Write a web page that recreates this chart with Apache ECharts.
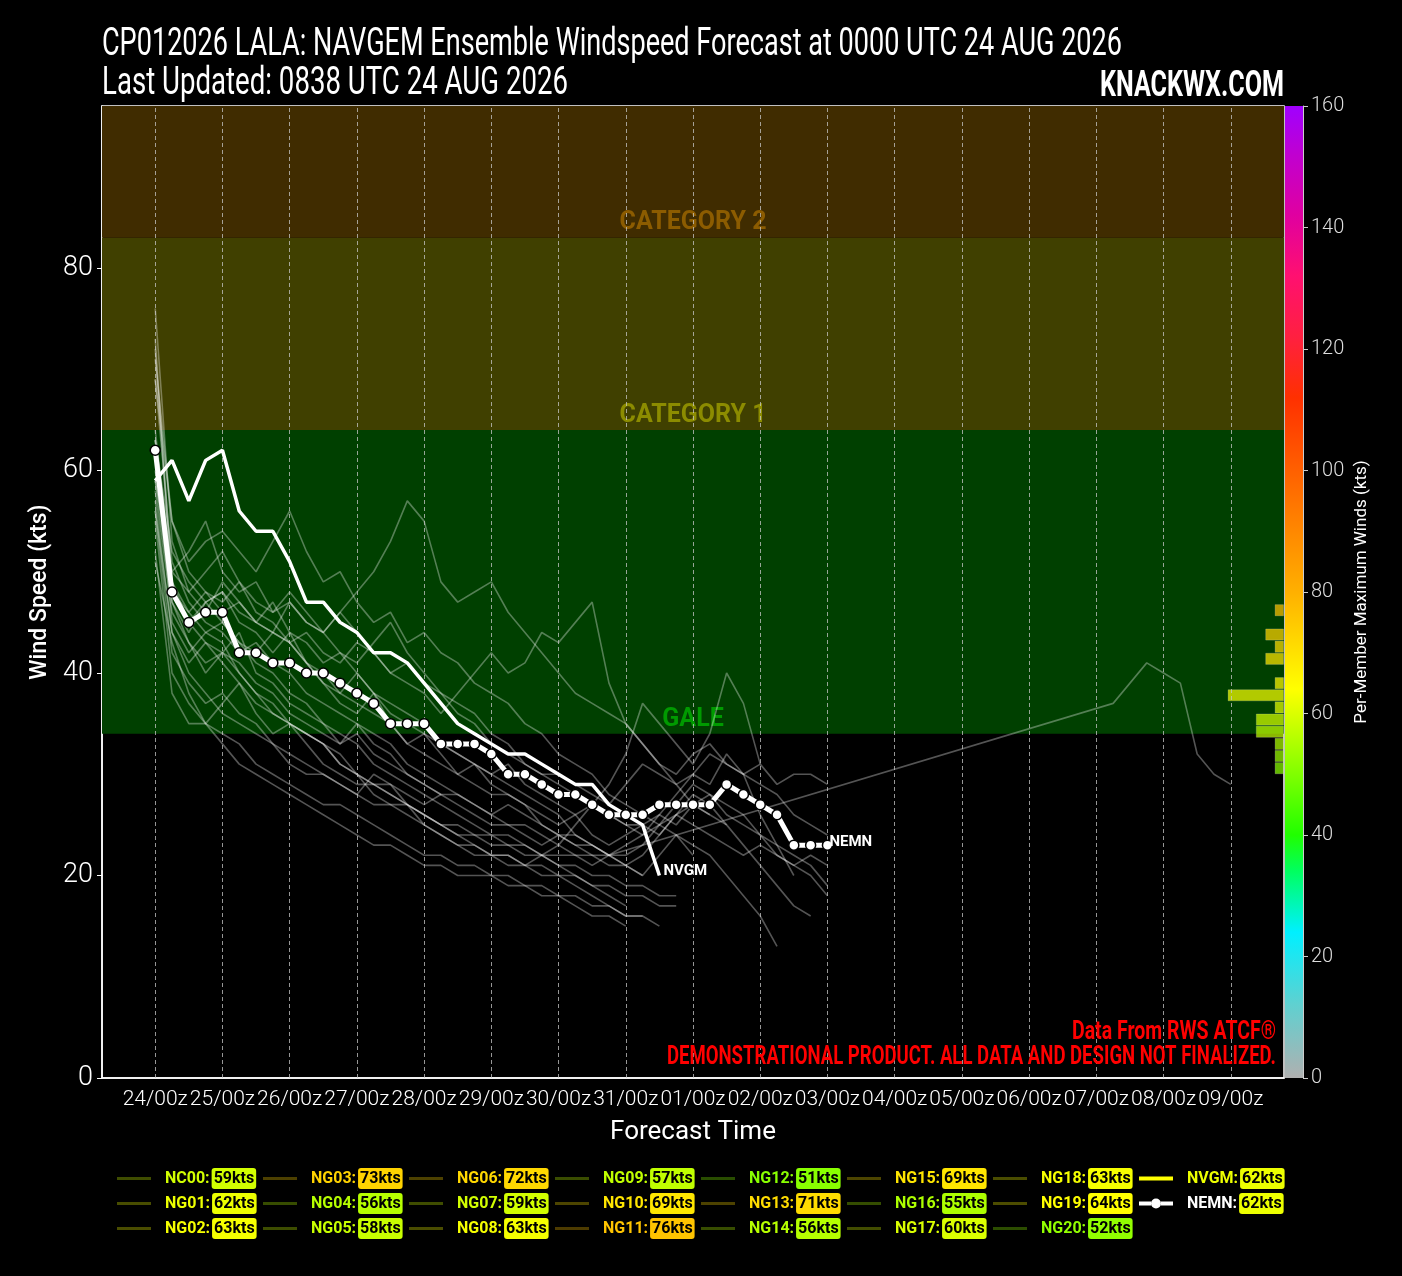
<!DOCTYPE html>
<html>
<head>
<meta charset="utf-8">
<title>CP012026 LALA NAVGEM Ensemble Windspeed Forecast</title>
<script src="https://cdn.jsdelivr.net/npm/echarts@6/dist/echarts.min.js"></script>
<style>
    html, body { margin: 0; padding: 0; background: #000; }
    .chart1 { width: 1402px; height: 1276px; }
</style>
</head>
<body>
<div class="chart1"></div>
<script>
// x axis: forecast hour from 0000 UTC 24 AUG, one tick per day
var dayLabels = ['24/00z', '25/00z', '26/00z', '27/00z', '28/00z', '29/00z', '30/00z', '31/00z',
    '01/00z', '02/00z', '03/00z', '04/00z', '05/00z', '06/00z', '07/00z', '08/00z', '09/00z'];
var STEP = 6; // hours between points

// deterministic + ensemble mean
var NVGM = [59, 61, 57, 61, 62, 56, 54, 54, 51, 47, 47, 45, 44, 42, 42, 41, 39, 37, 35, 34,
    33, 32, 32, 31, 30, 29, 29, 27, 26, 25, 20];
var NEMN = [62, 48, 45, 46, 46, 42, 42, 41, 41, 40, 40, 39, 38, 37, 35, 35, 35, 33, 33, 33,
    32, 30, 30, 29, 28, 28, 27, 26, 26, 26, 27, 27, 27, 27, 29, 28, 27, 26, 23, 23, 23];

// ensemble members (6-hourly from hour 0)
var NC00 = [59, 47, 44, 47, 48, 45, 44, 42, 44, 41, 39, 37, 36, 38, 35, 33, 32, 31, 30, 31,
    29, 28, 27, 26, 25, 26, 24, 23, 24, 25, 26, 25, 27, 28, 26, 25, 24, 23, 22, 21, 19];
var NG01 = [62, 45, 42, 44, 43, 40, 38, 36, 35, 34, 33, 31, 30, 28, 27, 27, 25, 24, 23, 22,
    22, 21, 21, 20, 20, 19, 18, 17, 16, 16, 15];
var NG02 = [63, 50, 48, 50, 52, 49, 47, 46, 48, 46, 44, 42, 41, 43, 45, 42, 40, 38, 37, 36,
    34, 33, 31, 30, 30, 29, 28, 27, 29, 31, 30, 29, 30, 32, 31, 30, 31, 29, 30, 30, 29];
var NG03 = [73, 49, 46, 44, 45, 43, 41, 40, 38, 37, 35, 34, 33, 31, 30, 29, 28, 27, 26, 25,
    24, 24, 23, 22, 21, 20, 19, 18, 17];
var NG04 = [56, 44, 41, 43, 42, 40, 38, 37, 35, 34, 33, 32, 30, 29, 28, 27, 26, 25, 25, 24,
    24, 23, 23, 22, 22, 22, 21, 22];
var NG04_LATE = [37, 39, 41, 40, 39, 32, 30, 29]; // NG04 picks up again at hour 342
var NG04_LATE_START = 342;
var NG05 = [58, 46, 43, 40, 42, 41, 39, 38, 36, 35, 34, 33, 35, 33, 32, 30, 29, 28, 28, 27,
    26, 27, 26, 25, 24, 24, 23, 22, 22, 23, 25, 27, 29, 28, 27, 26, 24, 22, 21, 20, 18];
var NG06 = [72, 48, 45, 43, 41, 39, 37, 36, 35, 34, 33, 31, 30, 29, 29, 27, 26, 25, 24, 23,
    22, 22, 21, 21, 20, 20, 19, 19, 18, 18, 17, 17];
var NG07 = [59, 50, 52, 55, 50, 48, 49, 46, 47, 45, 44, 46, 44, 42, 40, 41, 39, 38, 36, 35,
    33, 32, 31, 30, 29, 28, 27, 26, 25, 25, 24, 26, 25, 24, 23, 22, 23, 22, 21, 22, 21];
var NG08 = [63, 52, 49, 47, 48, 46, 45, 44, 47, 45, 44, 46, 48, 50, 53, 57, 55, 49, 47, 48,
    49, 46, 44, 42, 40, 38, 37, 36, 35, 33, 31, 30, 32, 33, 31, 30, 29, 28, 26, 25, 24];
var NG09 = [57, 44, 40, 38, 36, 35, 34, 33, 31, 30, 30, 29, 28, 30, 29, 28, 27, 28];
var NG10 = [69, 51, 47, 45, 44, 42, 43, 41, 40, 38, 37, 36, 35, 34, 33, 31, 30, 29, 28, 27,
    26, 25, 25, 24, 23, 22, 22, 21, 21, 20, 22, 24, 23, 22, 20, 18, 16, 13];
var NG11 = [76, 53, 48, 46, 49, 47, 45, 44, 43, 41, 40, 38, 37, 36, 35, 33, 34, 32, 30, 29,
    28, 28, 27, 25, 24, 23, 23, 22, 21, 22, 24, 26, 28, 27, 25, 23, 21, 19, 17, 16];
var NG12 = [51, 43, 38, 35, 34, 33, 31, 30, 29, 28, 27, 27, 26, 25, 24, 23, 22, 22, 21, 21,
    20, 20, 19, 19, 18, 18, 17, 17, 16, 16];
var NG13 = [71, 55, 50, 48, 46, 47, 45, 47, 44, 43, 41, 42, 40, 38, 37, 36, 35, 33, 32, 31,
    30, 31, 29, 28, 27, 26, 27, 26, 25, 24, 26, 28, 30, 29, 32, 30, 26, 23, 20];
var NG14 = [56, 42, 39, 37, 38, 36, 35, 33, 32, 31, 30, 29, 28, 27, 27, 26, 25, 24, 23, 23,
    22, 22, 21, 22, 23, 25, 27, 29, 32, 37, 35, 33, 31, 34, 40, 37, 31];
var NG15 = [69, 55, 51, 53, 54, 52, 50, 53, 56, 52, 49, 50, 47, 45, 46, 43, 44, 42, 41, 39,
    38, 37, 35, 34, 32, 31, 30, 28, 27, 26, 25, 24, 22];
var NG16 = [55, 40, 37, 35, 33, 31, 30, 29, 28, 27, 26, 25, 24, 23, 23, 22, 21, 21, 20, 20,
    20, 19, 19, 18, 18, 17, 16, 16, 15];
var NG17 = [60, 48, 46, 48, 47, 49, 46, 45, 43, 44, 42, 41, 43, 42, 40, 39, 38, 36, 38, 40,
    42, 40, 41, 44, 43, 45, 47, 39, 35, 33, 31, 29, 27, 26];
var NG18 = [63, 47, 43, 41, 42, 44, 40, 39, 37, 36, 35, 33, 34, 32, 31, 30, 29, 28, 27, 26,
    25, 25, 24, 23, 24, 23, 22, 22, 23, 24, 25, 26, 27, 26, 25];
var NG19 = [64, 49, 45, 47, 45, 43, 42, 44, 43, 41, 39, 38, 40, 38, 36, 35, 34, 33, 32, 31,
    30, 29, 28, 27, 26, 24, 23, 22, 21, 20];
var NG20 = [52, 38, 35, 35, 37, 39, 36, 34, 35, 33, 31, 30, 29, 29, 28, 27, 26, 25, 24, 24,
    23, 23, 22, 22, 21, 21, 20, 20, 19, 19, 18, 18];

var memberNames = ['NC00', 'NG01', 'NG02', 'NG03', 'NG04', 'NG05', 'NG06', 'NG07', 'NG08', 'NG09', 'NG10',
    'NG11', 'NG12', 'NG13', 'NG14', 'NG15', 'NG16', 'NG17', 'NG18', 'NG19', 'NG20'];
var memberValues = [NC00, NG01, NG02, NG03, NG04, NG05, NG06, NG07, NG08, NG09, NG10,
    NG11, NG12, NG13, NG14, NG15, NG16, NG17, NG18, NG19, NG20];

// intensity bands (kts)
var bandNames = ['GALE', 'CATEGORY 1', 'CATEGORY 2'];
var bandFrom = [34, 64, 83];
var bandTo = [64, 83, 96];

var FONT = "Roboto, 'Noto Sans', sans-serif";

// colour scale used for the per-member maximum winds
var cbStops = [[0, '#b0b0b0'], [12, '#60d0d0'], [24, '#00f0ff'], [34, '#00ff60'], [40, '#20ff00'],
    [50, '#80ff00'], [64, '#ffff00'], [80, '#ffb000'], [100, '#ff6000'], [112, '#ff3000'],
    [122, '#ff2040'], [132, '#ff1070'], [142, '#e000a0'], [152, '#c000d0'], [160, '#a000ff']];

function hexRgb(h) {
    return [parseInt(h.substr(1, 2), 16), parseInt(h.substr(3, 2), 16), parseInt(h.substr(5, 2), 16)];
}
function cmap(v, alpha) {
    var a = cbStops[0], b = cbStops[cbStops.length - 1];
    for (var i = 0; i < cbStops.length - 1; i++) {
        if (v >= cbStops[i][0] && v <= cbStops[i + 1][0]) { a = cbStops[i]; b = cbStops[i + 1]; break; }
    }
    var t = b[0] === a[0] ? 0 : (v - a[0]) / (b[0] - a[0]);
    var ca = hexRgb(a[1]), cb = hexRgb(b[1]);
    var c = ca.map(function (x, k) { return Math.round(x + (cb[k] - x) * t); });
    return 'rgba(' + c[0] + ',' + c[1] + ',' + c[2] + ',' + (alpha == null ? 1 : alpha) + ')';
}

function toPairs(values, start) {
    return values.map(function (v, i) { return [start + STEP * i, v]; });
}

// the original uses a condensed face; squeeze wide text to the same width
var measureCtx = document.createElement('canvas').getContext('2d');
function squeezedText(text, font, x, y, width, align, color) {
    measureCtx.font = font;
    var w = measureCtx.measureText(text).width;
    return {
        type: 'text', x: x, y: y, scaleX: width / w, silent: true, z: 10,
        style: { text: text, font: font, fill: color, textAlign: align, textVerticalAlign: 'middle' }
    };
}

var myChart1;
function initChart1() {
    var chartDom = document.querySelector('.chart1');
    myChart1 = echarts.init(chartDom, null, { renderer: 'canvas' });
    var option;

    var dayHours = dayLabels.map(function (d, i) { return i * 24; });

    // maxima per member (plus the two summary lines)
    var allNames = memberNames.concat(['NVGM', 'NEMN']);
    var allMax = memberValues.map(function (v, i) {
        var m = Math.max.apply(null, v);
        if (memberNames[i] === 'NG04') m = Math.max(m, Math.max.apply(null, NG04_LATE));
        return m;
    }).concat([Math.max.apply(null, NVGM), Math.max.apply(null, NEMN)]);

    // histogram of maxima, 2-kt bins on the 0-160 colour scale
    var binLabels = [], binCounts = [];
    for (var b = 0; b < 160; b += 2) { binLabels.push(String(b)); binCounts.push(0); }
    allMax.forEach(function (m) { binCounts[Math.floor(m / 2)]++; });

    var series = [];

    series.push({
        name: 'bands', type: 'line', data: [], z: 1, silent: true,
        markArea: {
            silent: true,
            data: bandNames.map(function (n, i) {
                var fill = ['#004000', '#404000', '#402c00'][i];
                var txt = ['#009a00', '#8c8c00', '#8c5c00'][i];
                return [{
                    name: n, yAxis: bandFrom[i],
                    itemStyle: { color: fill },
                    label: {
                        show: true, position: 'insideBottom', distance: 2, color: txt,
                        fontSize: 25, fontWeight: 'bold', fontFamily: FONT
                    }
                }, { yAxis: bandTo[i] }];
            })
        }
    });

    series.push({
        name: 'grid', type: 'line', data: [], z: 2, silent: true,
        markLine: {
            silent: true, symbol: 'none', label: { show: false },
            lineStyle: { color: 'rgba(200,200,200,0.75)', type: [4, 3], width: 1 },
            data: dayHours.map(function (h) { return { xAxis: h }; })
        }
    });

    memberValues.forEach(function (vals, i) {
        var data = toPairs(vals, 0);
        if (memberNames[i] === 'NG04') data = data.concat(toPairs(NG04_LATE, NG04_LATE_START));
        series.push({
            name: memberNames[i], type: 'line', data: data, z: 3,
            symbol: 'none', showSymbol: false, silent: true,
            lineStyle: { color: 'rgba(255,255,255,0.33)', width: 1.6 },
            itemStyle: { color: cmap(allMax[i], 0.3) }
        });
    });

    series.push({
        name: 'NVGM', type: 'line', data: toPairs(NVGM, 0), z: 5,
        symbol: 'none', showSymbol: false, silent: true,
        lineStyle: { color: '#ffffff', width: 3.5 },
        itemStyle: { color: '#ffff00' },
        endLabel: {
            show: true, formatter: 'NVGM', color: '#fff', fontSize: 15,
            fontWeight: 'bold', fontFamily: FONT, distance: 4, offset: [0, -4]
        }
    });

    series.push({
        name: 'NEMN', type: 'line', data: toPairs(NEMN, 0), z: 6,
        symbol: 'circle', symbolSize: 10, showSymbol: true, silent: true,
        lineStyle: { color: '#ffffff', width: 5 },
        itemStyle: { color: '#ffffff', borderColor: '#000', borderWidth: 1.5 },
        endLabel: {
            show: true, formatter: 'NEMN', color: '#fff', fontSize: 15,
            fontWeight: 'bold', fontFamily: FONT, distance: 2, offset: [0, -3]
        }
    });

    // histogram of per-member maxima
    series.push({
        name: 'hist', type: 'bar', xAxisIndex: 1, yAxisIndex: 1, z: 4, silent: true,
        barWidth: '100%',
        data: binCounts.map(function (c, i) {
            return {
                value: c,
                itemStyle: {
                    color: cmap(i * 2 + 1, 0.72),
                    borderColor: 'rgba(255,255,255,0.18)', borderWidth: c ? 1 : 0
                }
            };
        })
    });

    // colour bar
    series.push({
        name: 'colorbar', type: 'bar', xAxisIndex: 2, yAxisIndex: 2, silent: true,
        barWidth: '100%',
        data: [160],
        itemStyle: {
            color: new echarts.graphic.LinearGradient(0, 1, 0, 0, cbStops.map(function (s) {
                return { offset: s[0] / 160, color: s[1] };
            }))
        }
    });

    // legend: 8 columns of 3 rows
    var legends = [];
    for (var col = 0; col < 8; col++) {
        var names = allNames.slice(col * 3, col * 3 + 3);
        var rich = {};
        var data = names.map(function (n) {
            var idx = allNames.indexOf(n);
            var c = cmap(allMax[idx]);
            rich['n' + idx] = {
                color: n === 'NEMN' ? '#ffffff' : c, fontSize: 16, fontWeight: 'bold',
                fontFamily: FONT, padding: [0, 2, 0, 9]
            };
            rich['b' + idx] = {
                color: '#000', backgroundColor: c, borderRadius: 3, padding: [3, 2, 2, 2],
                fontSize: 16, fontWeight: 'bold', fontFamily: FONT
            };
            var item = { name: n };
            if (n === 'NVGM') {
                item.icon = 'path://M0,4H34V8H0Z';
                item.itemStyle = { color: '#ffff00' };
            } else if (n === 'NEMN') {
                item.icon = 'path://M0,4H12V8H0Z M22,4H34V8H22Z M17,1A5,5 0 1 1 17,11A5,5 0 1 1 17,1Z';
                item.itemStyle = { color: '#ffffff', borderWidth: 0 };
            } else {
                item.icon = 'rect';
                item.itemStyle = { color: cmap(allMax[idx], 0.3) };
            }
            return item;
        });
        legends.push({
            orient: 'vertical', left: 117 + 146 * col, top: 1168,
            itemWidth: 34, itemHeight: col === 7 ? 12 : 3, itemGap: 4,
            selectedMode: false, padding: 0,
            data: data,
            formatter: function (name) {
                var i = allNames.indexOf(name);
                return '{n' + i + '|' + name + ':}{b' + i + '|' + allMax[i] + 'kts}';
            },
            textStyle: { rich: rich }
        });
    }

    option = {
        backgroundColor: '#000',
        animation: false,
        graphic: [
            squeezedText('CP012026 LALA: NAVGEM Ensemble Windspeed Forecast at 0000 UTC 24 AUG 2026',
                '38px ' + FONT, 102, 45, 1020, 'left', '#ffffff'),
            squeezedText('Last Updated: 0838 UTC 24 AUG 2026',
                '38px ' + FONT, 102, 84, 466, 'left', '#ffffff'),
            squeezedText('KNACKWX.COM', 'bold 36px ' + FONT, 1284, 87, 184, 'right', '#ffffff'),
            squeezedText('Data From RWS ATCF®', 'bold 25px ' + FONT, 1276, 1033, 204, 'right', '#ff0000'),
            squeezedText('DEMONSTRATIONAL PRODUCT. ALL DATA AND DESIGN NOT FINALIZED.',
                'bold 25px ' + FONT, 1276, 1058, 609, 'right', '#ff0000')
        ],
        legend: legends,
        grid: [
            {
                left: 102, right: 118, top: 106, bottom: 198, show: true,
                backgroundColor: '#000', borderColor: '#ffffff', borderWidth: 1.5,
                outerBoundsMode: 'none'
            },
            { left: 1190, width: 94, top: 106, bottom: 198, outerBoundsMode: 'none' },
            { left: 1285, width: 18, top: 106, bottom: 198, outerBoundsMode: 'none' }
        ],
        xAxis: [
            {
                type: 'value', gridIndex: 0, min: -19, max: 403,
                name: 'Forecast Time', nameLocation: 'middle', nameGap: 41,
                nameTextStyle: { color: '#fff', fontSize: 26, fontFamily: FONT },
                axisLine: { show: true, onZero: false, lineStyle: { color: '#fff', width: 1.5 } },
                axisTick: { show: false },
                splitLine: { show: false },
                axisLabel: {
                    customValues: dayHours, showMinLabel: true, showMaxLabel: true, hideOverlap: false,
                    color: '#fff', fontSize: 21, fontWeight: 300, fontFamily: FONT, margin: 11,
                    formatter: function (v) { return dayLabels[Math.round(v / 24)] || ''; }
                }
            },
            {
                type: 'value', gridIndex: 1, min: 0, max: 10, inverse: true, show: false
            },
            {
                type: 'category', gridIndex: 2, data: ['cb'], show: false
            }
        ],
        yAxis: [
            {
                type: 'value', gridIndex: 0, min: 0, max: 96, interval: 20,
                name: 'Wind Speed (kts)', nameLocation: 'middle', nameGap: 50,
                nameTextStyle: { color: '#fff', fontSize: 23, fontWeight: 500, fontFamily: FONT },
                axisLine: { show: true, onZero: false, lineStyle: { color: '#fff', width: 1.5 } },
                axisTick: { show: true, length: 5, lineStyle: { color: '#fff' } },
                splitLine: { show: false },
                axisLabel: {
                    color: '#fff', fontSize: 27, fontWeight: 300, fontFamily: FONT, margin: 9,
                    showMaxLabel: false,
                    formatter: function (v) { return v % 20 === 0 ? String(v) : ''; }
                }
            },
            {
                type: 'category', gridIndex: 1, data: binLabels, show: false
            },
            {
                type: 'value', gridIndex: 2, min: 0, max: 160, interval: 20, position: 'right',
                name: 'Per-Member Maximum Winds (kts)', nameLocation: 'middle', nameGap: 50,
                nameRotate: 90,
                nameTextStyle: { color: '#fff', fontSize: 17, fontFamily: FONT },
                axisLine: { show: true, onZero: false, lineStyle: { color: '#cccccc', width: 1 } },
                axisTick: { show: true, length: 5, lineStyle: { color: '#cccccc' } },
                splitLine: { show: false },
                axisLabel: { color: '#dddddd', fontSize: 20, fontWeight: 300, fontFamily: FONT, margin: 8 }
            }
        ],
        series: series
    };

    option && myChart1.setOption(option);
}

document.addEventListener('DOMContentLoaded', function () {
    initChart1();
});

window.addEventListener('resize', function () {
    myChart1.resize();
});
</script>
</body>
</html>
